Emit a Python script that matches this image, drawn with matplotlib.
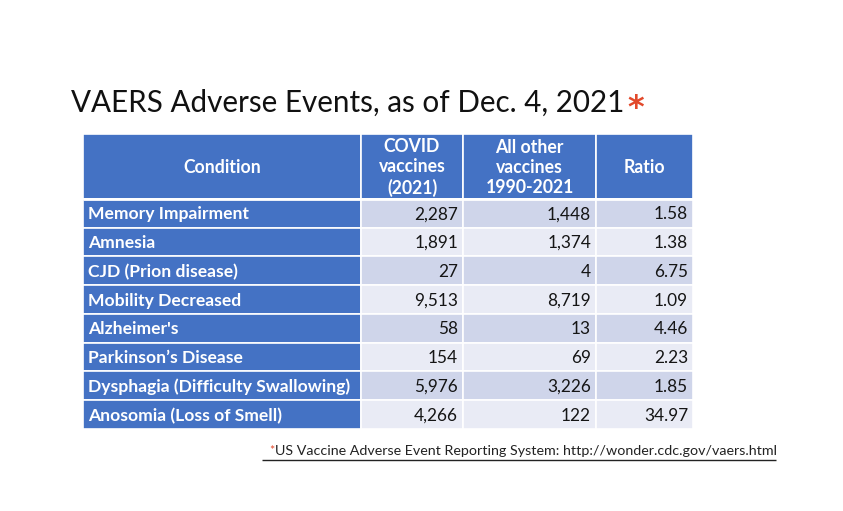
import matplotlib.pyplot as plt
from matplotlib.patches import Rectangle

conditions = ["Memory Impairment", "Amnesia", "CJD (Prion disease)",
              "Mobility Decreased", "Alzheimer's", "Parkinson\u2019s Disease",
              "Dysphagia (Difficulty Swallowing)", "Anosomia (Loss of Smell)"]
covid_counts = [2287, 1891, 27, 9513, 58, 154, 5976, 4266]
other_counts = [1448, 1374, 4, 8719, 13, 69, 3226, 122]
ratios = [1.58, 1.38, 6.75, 1.09, 4.46, 2.23, 1.85, 34.97]
headers = ["Condition", "COVID\nvaccines\n(2021)",
           "All other\nvaccines\n1990-2021", "Ratio"]

title = "VAERS Adverse Events, as of Dec. 4, 2021"
footnote = "US Vaccine Adverse Event Reporting System: http://wonder.cdc.gov/vaers.html"

FONT = "Lato"
BLUE = "#4472C4"
ROW_DARK = "#CFD5EA"
ROW_LIGHT = "#E9EBF5"
RED = "#E2492B"

# layout in pixel units (y grows downward)
col_edges = [83, 361, 463, 596, 693]
top = 134
header_h = 65
row_h = (429 - 199) / len(conditions)

fig = plt.figure(figsize=(8.43, 5.11), dpi=100)
fig.patch.set_facecolor("white")
ax = fig.add_axes([0, 0, 1, 1])
ax.set_xlim(0, 843)
ax.set_ylim(511, 0)
ax.axis("off")


def fit_width(t, width):
    fig.canvas.draw()
    bb = t.get_window_extent()
    t.set_fontsize(t.get_fontsize() * width / bb.width)


def right_edge(t):
    fig.canvas.draw()
    bb = t.get_window_extent()
    return ax.transData.inverted().transform((bb.x1, bb.y0))[0]


# header row
for i, h in enumerate(headers):
    x0, x1 = col_edges[i], col_edges[i + 1]
    ax.add_patch(Rectangle((x0, top), x1 - x0, header_h, facecolor=BLUE,
                           edgecolor="white", lw=1.2))
    ax.text((x0 + x1) / 2, top + header_h / 2 + 1, h, ha="center", va="center",
            color="white", fontsize=12.7, fontweight="bold", family=FONT,
            linespacing=1.22)

# body rows
for r, cond in enumerate(conditions):
    y0 = top + header_h + r * row_h
    fill = ROW_DARK if r % 2 == 0 else ROW_LIGHT
    cells = [cond, f"{covid_counts[r]:,}", f"{other_counts[r]:,}", f"{ratios[r]:.2f}"]
    for i, val in enumerate(cells):
        x0, x1 = col_edges[i], col_edges[i + 1]
        ax.add_patch(Rectangle((x0, y0), x1 - x0, row_h,
                               facecolor=BLUE if i == 0 else fill,
                               edgecolor="white", lw=1.2))
        if i == 0:
            ax.text(x0 + 5, y0 + row_h / 2 + 1, val, ha="left", va="center",
                    color="white", fontsize=12.6, fontweight="bold", family=FONT)
        else:
            ax.text(x1 - 5, y0 + row_h / 2 + 1, val, ha="right", va="center",
                    color="#151515", fontsize=12.4, family=FONT)

# thicker white line under the header
ax.hlines(top + header_h, col_edges[0], col_edges[-1], color="white", lw=2)

# title
t = ax.text(71, 112, title, ha="left", va="baseline", fontsize=22,
            family=FONT, color="#111111")
fit_width(t, 552)
ax.text(right_edge(t) + 3, 117, "*", ha="left", va="baseline",
        fontsize=23, fontweight="bold", family="DejaVu Sans", color=RED)

# footnote
star = ax.text(269, 455, "*", ha="left", va="baseline", fontsize=9,
               family=FONT, color=RED)
f = ax.text(right_edge(star) + 0.5, 455, footnote, ha="left", va="baseline",
            fontsize=10, family=FONT, color="#222222")
fit_width(f, 776 - (right_edge(star) + 0.5))
ax.hlines(460, 262, 776, color="#222222", lw=1)

fig.savefig("out.png", dpi=100, facecolor="white")
